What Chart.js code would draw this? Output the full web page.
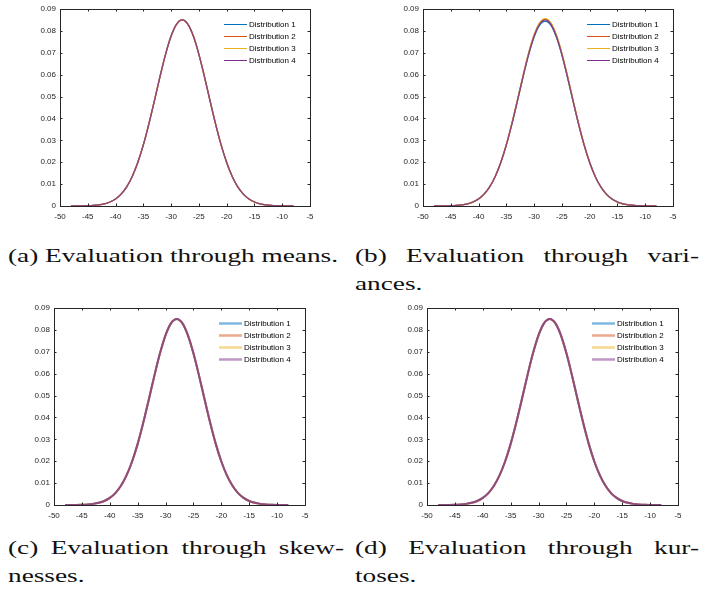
<!DOCTYPE html>
<html>
<head>
<meta charset="utf-8">
<script src="https://cdn.jsdelivr.net/npm/chart.js@4"></script>
<style>
  body { margin: 0; background: #fff; width: 701px; height: 599px; overflow: hidden; position: relative; }
  canvas { position: absolute; }
  .cap { position: absolute; font-family: "Liberation Serif", "DejaVu Serif", serif; font-size: 19.5px; color: #111;
         line-height: 28px; white-space: nowrap; transform-origin: 0 0; }
  .just { text-align: justify; text-align-last: justify; white-space: normal; }
</style>
</head>
<body>
<canvas id="chartA"></canvas>
<canvas id="chartB"></canvas>
<canvas id="chartC"></canvas>
<canvas id="chartD"></canvas>

<div class="cap" data-w="340" style="left:8px; top:242px;">(a) Evaluation through means.</div>
<div class="cap" data-w="344" style="left:355px; top:242px;">
  <div class="just">(b) Evaluation through vari-</div>
  <div>ances.</div>
</div>
<div class="cap" data-w="336" style="left:8px; top:534px;">
  <div class="just">(c) Evaluation through skew-</div>
  <div>nesses.</div>
</div>
<div class="cap" data-w="344" style="left:355px; top:534px;">
  <div class="just">(d) Evaluation through kur-</div>
  <div>toses.</div>
</div>

<script>
// Data
const xValues = [-48, -47, -46, -45, -44, -43, -42, -41, -40, -39, -38, -37, -36, -35, -34, -33, -32, -31, -30, -29, -28,
                 -27, -26, -25, -24, -23, -22, -21, -20, -19, -18, -17, -16, -15, -14, -13, -12, -11, -10, -9, -8];

// common density curve (all four distributions overlap in a, c, d)
const pdfCommon = [0.00001, 0.00002, 0.00005, 0.00012, 0.00025, 0.00051, 0.00099, 0.00183, 0.00323, 0.00545, 0.00877,
                   0.01351, 0.01987, 0.02793, 0.03754, 0.04818, 0.05911, 0.06928, 0.07762, 0.08309, 0.08500,
                   0.08309, 0.07762, 0.06928, 0.05911, 0.04818, 0.03754, 0.02793, 0.01987, 0.01351, 0.00877,
                   0.00545, 0.00323, 0.00183, 0.00099, 0.00051, 0.00025, 0.00012, 0.00005, 0.00002, 0.00001];

// (b) variances: peaks differ slightly
const varDist1 = [0.00001, 0.00002, 0.00005, 0.00012, 0.00025, 0.00052, 0.00100, 0.00185, 0.00326, 0.00549, 0.00880,
                  0.01352, 0.01985, 0.02785, 0.03738, 0.04795, 0.05880, 0.06890, 0.07720, 0.08265, 0.08450,
                  0.08265, 0.07720, 0.06890, 0.05880, 0.04795, 0.03738, 0.02785, 0.01985, 0.01352, 0.00880,
                  0.00549, 0.00326, 0.00185, 0.00100, 0.00052, 0.00025, 0.00012, 0.00005, 0.00002, 0.00001];
const varDist2 = [0.00001, 0.00002, 0.00005, 0.00011, 0.00024, 0.00050, 0.00098, 0.00181, 0.00320, 0.00541, 0.00874,
                  0.01350, 0.01990, 0.02800, 0.03768, 0.04838, 0.05938, 0.06962, 0.07800, 0.08350, 0.08530,
                  0.08350, 0.07800, 0.06962, 0.05938, 0.04838, 0.03768, 0.02800, 0.01990, 0.01350, 0.00874,
                  0.00541, 0.00320, 0.00181, 0.00098, 0.00050, 0.00024, 0.00011, 0.00005, 0.00002, 0.00001];
const varDist3 = [0.00001, 0.00002, 0.00005, 0.00011, 0.00024, 0.00049, 0.00097, 0.00180, 0.00318, 0.00538, 0.00872,
                  0.01349, 0.01992, 0.02806, 0.03776, 0.04850, 0.05952, 0.06980, 0.07820, 0.08370, 0.08555,
                  0.08370, 0.07820, 0.06980, 0.05952, 0.04850, 0.03776, 0.02806, 0.01992, 0.01349, 0.00872,
                  0.00538, 0.00318, 0.00180, 0.00097, 0.00049, 0.00024, 0.00011, 0.00005, 0.00002, 0.00001];
const varDist4 = pdfCommon;

const seriesLabels = ["Distribution 1", "Distribution 2", "Distribution 3", "Distribution 4"];
const xTicks = [-50, -45, -40, -35, -30, -25, -20, -15, -10, -5];
const yTicks = [0, 0.01, 0.02, 0.03, 0.04, 0.05, 0.06, 0.07, 0.08, 0.09];

const solidColors = ["#0072BD", "#D95319", "#EDB120", "#7E2F8E"];
const solidLines = ["#0072BD", "#D95319", "#EDB120", "rgba(126,47,142,0.85)"];
const paleColors = ["rgba(0,114,189,0.5)", "rgba(217,83,25,0.5)", "rgba(237,177,32,0.5)", "rgba(126,47,142,0.5)"];
const paleLines = ["rgba(0,114,189,0.5)", "rgba(217,83,25,0.5)", "rgba(237,177,32,0.5)", "rgba(126,47,142,0.75)"];

const axisColor = "#262626";
const tickFont = { family: "Liberation Sans, Arial, sans-serif", size: 8 };

// stretch captions horizontally to the widths in the figure
(function fitCaptions() {
  const c = document.createElement("canvas").getContext("2d");
  c.font = '19.5px "Liberation Serif"';
  const s = 330 / c.measureText("(a) Evaluation through means.").width;
  document.querySelectorAll(".cap").forEach(el => {
    el.style.transform = "scaleX(" + s.toFixed(4) + ")";
    el.style.width = (Number(el.dataset.w) / s).toFixed(2) + "px";
  });
})();

// box, inner ticks on all sides, legend
const matlabAxes = {
  id: "matlabAxes",
  afterDraw(chart) {
    const ctx = chart.ctx;
    const a = chart.chartArea;
    const xs = chart.scales.x, ys = chart.scales.y;
    const tl = 2.5;
    ctx.save();
    ctx.strokeStyle = axisColor;
    ctx.lineWidth = 1;
    ctx.beginPath();
    xTicks.forEach(v => {
      const px = Math.round(xs.getPixelForValue(v)) + 0.5;
      ctx.moveTo(px, a.bottom); ctx.lineTo(px, a.bottom - tl);
      ctx.moveTo(px, a.top); ctx.lineTo(px, a.top + tl);
    });
    yTicks.forEach(v => {
      const py = Math.round(ys.getPixelForValue(v)) + 0.5;
      ctx.moveTo(a.left, py); ctx.lineTo(a.left + tl, py);
      ctx.moveTo(a.right, py); ctx.lineTo(a.right - tl, py);
    });
    ctx.stroke();
    ctx.strokeRect(Math.round(a.left) + 0.5, Math.round(a.top) + 0.5,
                   Math.round(a.right - a.left), Math.round(a.bottom - a.top));

    // legend
    const opt = chart.options.plugins.matlabAxes;
    ctx.font = "8px Liberation Sans, Arial, sans-serif";
    ctx.textBaseline = "middle";
    chart.data.datasets.forEach((ds, i) => {
      const y = Math.round(a.top + 15 + 12 * i) + 0.5;
      ctx.strokeStyle = opt.legendColors[i];
      ctx.lineWidth = opt.legendWidth;
      ctx.beginPath();
      ctx.moveTo(a.right - 86, y); ctx.lineTo(a.right - 63, y);
      ctx.stroke();
      ctx.fillStyle = "#000";
      ctx.fillText(ds.label, a.right - 61, y);
    });
    ctx.restore();
  }
};

function makeChart(id, box, series, lineColors, legendColors, lineWidth, legendWidth) {
  // box = chart area in page pixels
  const padL = 60, padT = 9, padR = 12, padB = 19;
  const cv = document.getElementById(id);
  const w = box.right - box.left + padL + padR;
  const h = box.bottom - box.top + padT + padB;
  cv.style.left = (box.left - padL) + "px";
  cv.style.top = (box.top - padT) + "px";
  cv.width = w; cv.height = h;
  cv.style.width = w + "px"; cv.style.height = h + "px";

  return new Chart(cv, {
    type: "line",
    data: {
      labels: xValues,
      datasets: series.map((s, i) => ({
        label: seriesLabels[i],
        data: xValues.map((x, k) => ({ x: x, y: s[k] })),
        borderColor: lineColors[i],
        borderWidth: lineWidth,
        pointRadius: 0,
        cubicInterpolationMode: "monotone",
        fill: false,
        order: series.length - i   // later distributions drawn on top
      }))
    },
    options: {
      responsive: false,
      animation: false,
      layout: { padding: { top: padT, right: padR, left: 0, bottom: 0 } },
      plugins: {
        legend: { display: false },
        tooltip: { enabled: false },
        matlabAxes: { legendWidth: legendWidth, legendColors: legendColors }
      },
      scales: {
        x: {
          type: "linear",
          min: -50, max: -5,
          afterFit(scale) { scale.height = padB; },
          afterBuildTicks(scale) { scale.ticks = xTicks.map(v => ({ value: v })); },
          grid: { display: false, drawTicks: false },
          border: { display: false },
          ticks: { font: tickFont, color: axisColor, padding: 6, maxRotation: 0, autoSkip: false,
                    callback: v => String(v) }
        },
        y: {
          type: "linear",
          min: 0, max: 0.09,
          afterFit(scale) { scale.width = padL; },
          afterBuildTicks(scale) { scale.ticks = yTicks.map(v => ({ value: v })); },
          grid: { display: false, drawTicks: false },
          border: { display: false },
          ticks: { font: tickFont, color: axisColor, padding: 4, autoSkip: false,
                   callback: v => (v === 0 ? "0" : v.toFixed(2)) }
        }
      }
    },
    plugins: [matlabAxes]
  });
}

makeChart("chartA", { left: 60, right: 310, top: 9, bottom: 206 },
          [pdfCommon, pdfCommon, pdfCommon, pdfCommon], solidLines, solidColors, 1.3, 1);
makeChart("chartB", { left: 423, right: 673, top: 9, bottom: 206 },
          [varDist1, varDist2, varDist3, varDist4], solidLines, solidColors, 1.3, 1);
makeChart("chartC", { left: 54, right: 305, top: 308, bottom: 505 },
          [pdfCommon, pdfCommon, pdfCommon, pdfCommon], paleLines, paleColors, 2, 2.5);
makeChart("chartD", { left: 427, right: 678, top: 308, bottom: 505 },
          [pdfCommon, pdfCommon, pdfCommon, pdfCommon], paleLines, paleColors, 2, 2.5);
</script>
</body>
</html>
